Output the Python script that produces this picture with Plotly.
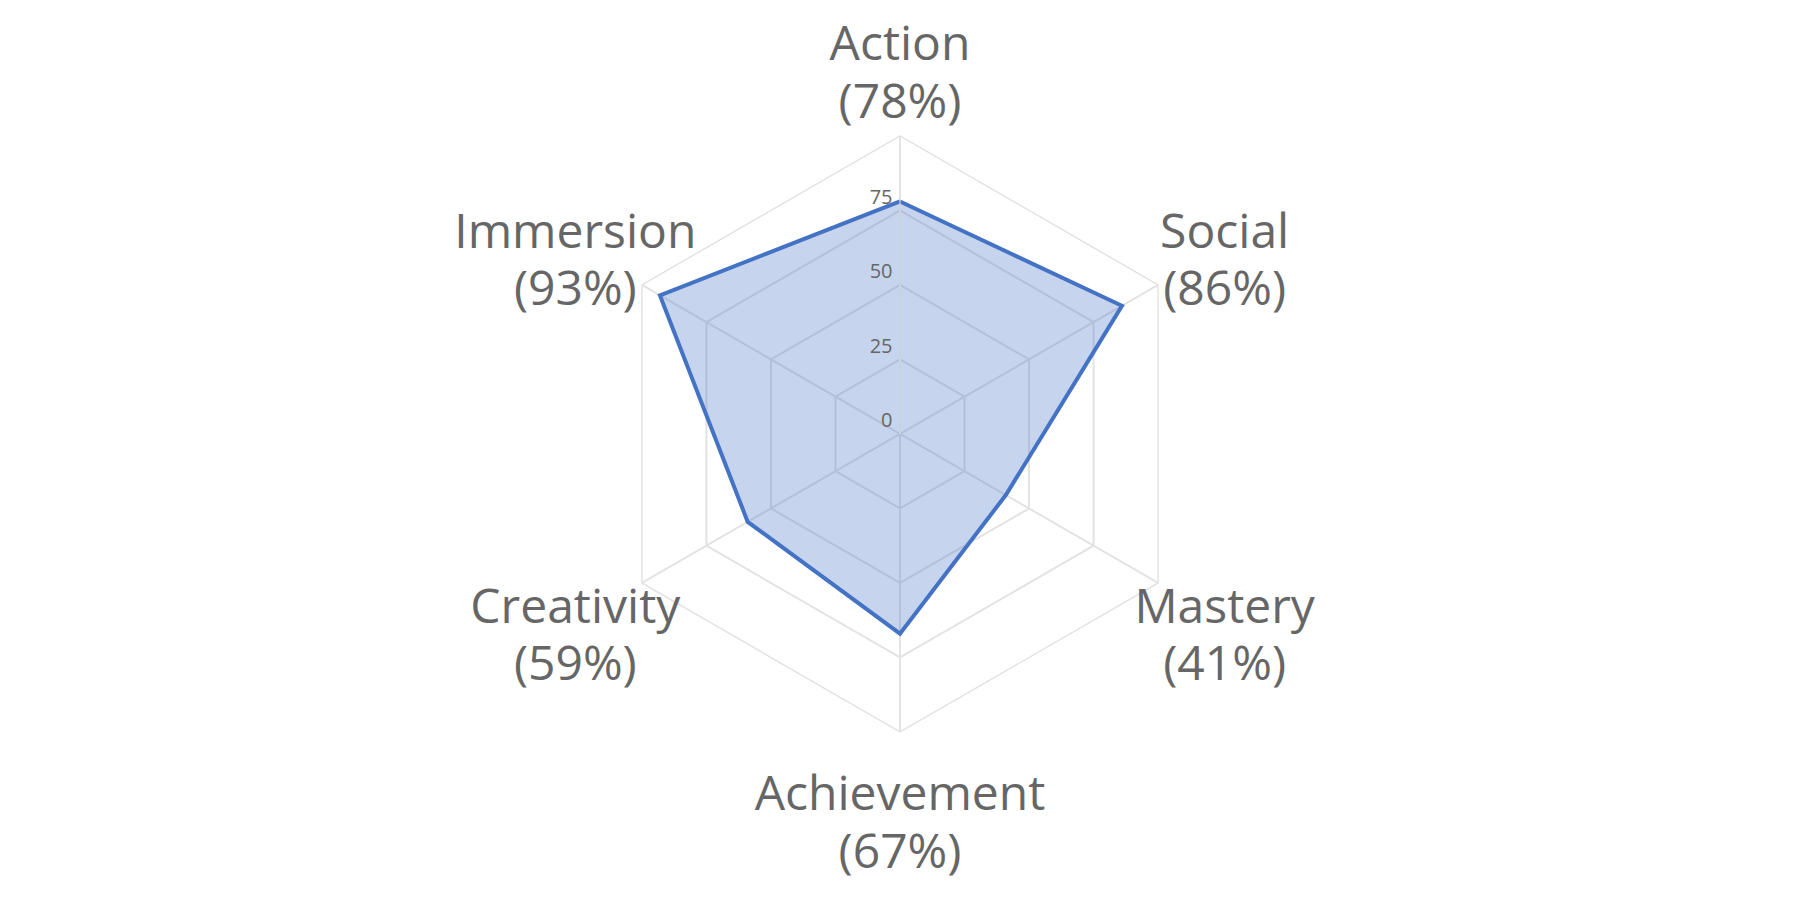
import plotly.graph_objects as go

categories = ["Action", "Social", "Mastery", "Achievement", "Creativity", "Immersion"]
values = [78, 86, 41, 67, 59, 93]
radial_ticks = [0, 25, 50, 75]

pct_labels = [f"({v}%)" for v in values]

FONT = "Open Sans, Noto Sans, sans-serif"
GRID = "#e3e3e3"
TXT = "#666666"
LABEL_SIZE = 48

# main chart: center y = 434 px from top, radius 298 px
MAIN_DOMAIN_Y = [0.1867, 0.849]
# label layer: center y = 452 px from top, radius 440 px
LABEL_DOMAIN_Y = [0.00889, 0.98667]
LABEL_RANGE = 100
LABEL_R = 85.2

fig = go.Figure()
fig.add_trace(go.Scatterpolar(
    r=values + values[:1],
    theta=categories + categories[:1],
    mode="lines",
    fill="toself",
    fillcolor="rgba(68,114,196,0.3)",
    line=dict(color="#4472C4", width=4),
    showlegend=False,
    hoverinfo="skip",
    subplot="polar",
))
for txt, pos in [(categories, "top center"), (pct_labels, "bottom center")]:
    fig.add_trace(go.Scatterpolar(
        r=[LABEL_R] * len(categories),
        theta=categories,
        mode="markers+text",
        marker=dict(size=6, opacity=0),
        text=txt,
        textposition=pos,
        textfont=dict(family=FONT, size=LABEL_SIZE, color=TXT),
        showlegend=False,
        hoverinfo="skip",
        subplot="polar2",
    ))

fig.update_layout(
    width=1800, height=900,
    margin=dict(l=0, r=0, t=0, b=0),
    paper_bgcolor="white",
    font=dict(family=FONT, color=TXT),
    polar=dict(
        domain=dict(x=[0, 1], y=MAIN_DOMAIN_Y),
        bgcolor="white",
        gridshape="linear",
        angularaxis=dict(
            direction="clockwise",
            rotation=90,
            showticklabels=False,
            gridcolor=GRID,
            gridwidth=1.5,
            linecolor=GRID,
            linewidth=1.5,
            showline=True,
            ticks="",
        ),
        radialaxis=dict(
            range=[0, 100],
            tickvals=radial_ticks,
            ticktext=[f"{t}<br>\u00a0" for t in radial_ticks],
            angle=90,
            side="counterclockwise",
            tickangle=90,
            tickfont=dict(family=FONT, size=20, color=TXT),
            gridcolor=GRID,
            gridwidth=1.5,
            showline=True,
            linecolor=GRID,
            ticks="",
        ),
    ),
    polar2=dict(
        domain=dict(x=[0, 1], y=LABEL_DOMAIN_Y),
        bgcolor="rgba(0,0,0,0)",
        angularaxis=dict(
            direction="clockwise",
            rotation=90,
            visible=False,
            showgrid=False,
            showline=False,
            showticklabels=False,
            categoryarray=categories,
        ),
        radialaxis=dict(
            range=[0, LABEL_RANGE],
            visible=False,
            showgrid=False,
            showline=False,
            showticklabels=False,
        ),
    ),
)

fig.write_html("out.html")
